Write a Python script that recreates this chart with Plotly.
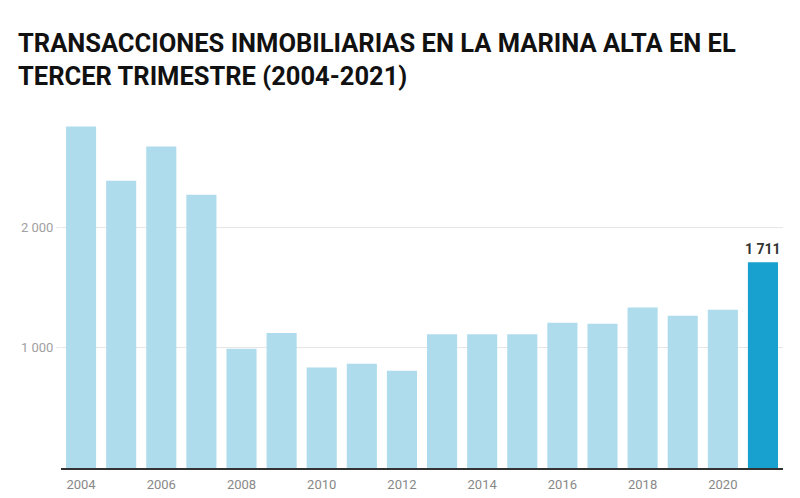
import plotly.graph_objects as go

years = list(range(2004, 2022))
values = [2840, 2388, 2673, 2272, 992, 1122, 836, 867, 809, 1111, 1111, 1111, 1208, 1200, 1335, 1266, 1316, 1711]
ytick_vals = [1000, 2000]
ytick_text = ["1 000", "2 000"]
xtick_vals = list(range(2004, 2021, 2))

light = "#aedced"
dark = "#18a1ce"
colors = [dark if y == 2021 else light for y in years]

fig = go.Figure()
fig.add_trace(go.Bar(x=years, y=values, marker=dict(color=colors, line=dict(width=0)),
                     hoverinfo="x+y"))

fig.add_annotation(x=years[-1], y=values[-1], text="<b>1 711</b>", showarrow=False,
                   yanchor="bottom", yshift=3,
                   font=dict(family="Roboto", size=14, color="#333333"))

# The page body adds an 8px offset; margins compensate for it
fig.update_layout(
    width=800, height=498,
    margin=dict(l=53, r=25, t=112, b=38),
    paper_bgcolor="white", plot_bgcolor="white",
    bargap=0.25,
    showlegend=False,
    title=dict(text="<b>TRANSACCIONES INMOBILIARIAS EN LA MARINA ALTA EN EL<br>TERCER TRIMESTRE (2004-2021)</b>",
               x=10/800, xanchor="left", xref="container",
               y=1-44/498, yanchor="top", yref="container",
               font=dict(family="Roboto", size=25.5, color="#111111")),
    xaxis=dict(range=[2003.5, 2021.5], tickvals=xtick_vals, showgrid=False,
               ticks="", showline=True, linecolor="#333333", linewidth=2,
               ticklabelstandoff=3,
               tickfont=dict(family="Roboto", size=13, color="#888888"), zeroline=False),
    yaxis=dict(range=[0, 2893], tickvals=ytick_vals, ticktext=ytick_text,
               showgrid=True, gridcolor="#e6e6e6", gridwidth=1, zeroline=False,
               ticks="outside", ticklen=4, tickcolor="#e6e6e6",
               tickfont=dict(family="Roboto", size=13, color="#a0a0a0")),
)

fig.write_html("out.html")
